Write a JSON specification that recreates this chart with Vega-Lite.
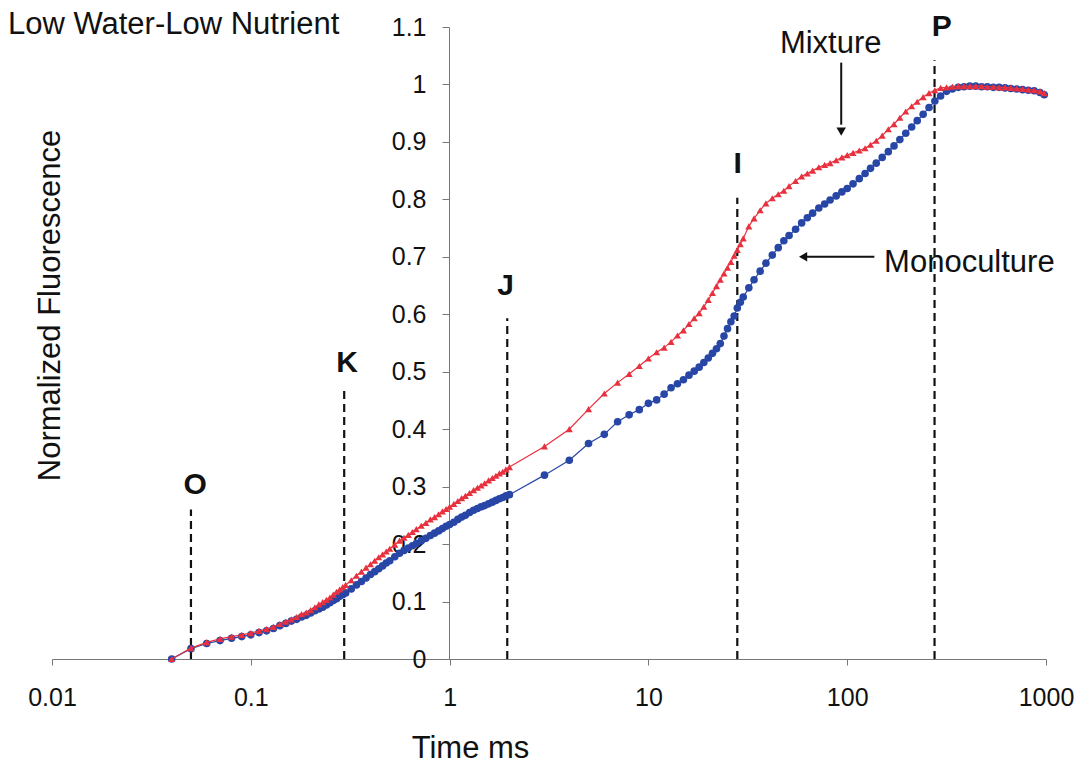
{
  "$schema": "https://vega.github.io/schema/vega-lite/v6.json",
  "width": 994,
  "height": 632,
  "autosize": "none",
  "padding": {"left": 52, "top": 27, "right": 34, "bottom": 110},
  "background": "white",
  "config": {"view": {"stroke": null}, "font": "Liberation Sans"},
  "datasets": {
    "curve": [
      {"t":0.04,"Mixture":0,"Monoculture":0},
      {"t":0.05,"Mixture":0.019,"Monoculture":0.018},
      {"t":0.06,"Mixture":0.029,"Monoculture":0.027},
      {"t":0.07,"Mixture":0.035,"Monoculture":0.032},
      {"t":0.08,"Mixture":0.039,"Monoculture":0.036},
      {"t":0.09,"Mixture":0.042,"Monoculture":0.039},
      {"t":0.1,"Mixture":0.045,"Monoculture":0.042},
      {"t":0.11,"Mixture":0.049,"Monoculture":0.046},
      {"t":0.12,"Mixture":0.052,"Monoculture":0.049},
      {"t":0.13,"Mixture":0.056,"Monoculture":0.053},
      {"t":0.14,"Mixture":0.061,"Monoculture":0.058},
      {"t":0.15,"Mixture":0.065,"Monoculture":0.062},
      {"t":0.16,"Mixture":0.069,"Monoculture":0.066},
      {"t":0.17,"Mixture":0.073,"Monoculture":0.069},
      {"t":0.18,"Mixture":0.078,"Monoculture":0.073},
      {"t":0.19,"Mixture":0.081,"Monoculture":0.076},
      {"t":0.2,"Mixture":0.085,"Monoculture":0.080},
      {"t":0.21,"Mixture":0.090,"Monoculture":0.084},
      {"t":0.22,"Mixture":0.095,"Monoculture":0.087},
      {"t":0.23,"Mixture":0.099,"Monoculture":0.090},
      {"t":0.24,"Mixture":0.103,"Monoculture":0.094},
      {"t":0.25,"Mixture":0.107,"Monoculture":0.098},
      {"t":0.26,"Mixture":0.112,"Monoculture":0.102},
      {"t":0.27,"Mixture":0.117,"Monoculture":0.105},
      {"t":0.28,"Mixture":0.121,"Monoculture":0.109},
      {"t":0.29,"Mixture":0.125,"Monoculture":0.112},
      {"t":0.3,"Mixture":0.129,"Monoculture":0.115},
      {"t":0.32,"Mixture":0.137,"Monoculture":0.122},
      {"t":0.34,"Mixture":0.145,"Monoculture":0.129},
      {"t":0.36,"Mixture":0.152,"Monoculture":0.135},
      {"t":0.38,"Mixture":0.159,"Monoculture":0.141},
      {"t":0.4,"Mixture":0.165,"Monoculture":0.147},
      {"t":0.42,"Mixture":0.171,"Monoculture":0.152},
      {"t":0.44,"Mixture":0.177,"Monoculture":0.157},
      {"t":0.46,"Mixture":0.182,"Monoculture":0.162},
      {"t":0.48,"Mixture":0.187,"Monoculture":0.167},
      {"t":0.5,"Mixture":0.192,"Monoculture":0.171},
      {"t":0.53,"Mixture":0.199,"Monoculture":0.178},
      {"t":0.56,"Mixture":0.206,"Monoculture":0.184},
      {"t":0.59,"Mixture":0.211,"Monoculture":0.189},
      {"t":0.62,"Mixture":0.216,"Monoculture":0.193},
      {"t":0.65,"Mixture":0.221,"Monoculture":0.197},
      {"t":0.68,"Mixture":0.226,"Monoculture":0.201},
      {"t":0.72,"Mixture":0.232,"Monoculture":0.206},
      {"t":0.76,"Mixture":0.237,"Monoculture":0.210},
      {"t":0.8,"Mixture":0.243,"Monoculture":0.215},
      {"t":0.84,"Mixture":0.247,"Monoculture":0.219},
      {"t":0.88,"Mixture":0.252,"Monoculture":0.223},
      {"t":0.92,"Mixture":0.257,"Monoculture":0.227},
      {"t":0.96,"Mixture":0.261,"Monoculture":0.231},
      {"t":1.0,"Mixture":0.265,"Monoculture":0.234},
      {"t":1.05,"Mixture":0.270,"Monoculture":0.238},
      {"t":1.1,"Mixture":0.275,"Monoculture":0.243},
      {"t":1.15,"Mixture":0.280,"Monoculture":0.247},
      {"t":1.2,"Mixture":0.284,"Monoculture":0.250},
      {"t":1.26,"Mixture":0.289,"Monoculture":0.255},
      {"t":1.32,"Mixture":0.294,"Monoculture":0.259},
      {"t":1.38,"Mixture":0.298,"Monoculture":0.262},
      {"t":1.44,"Mixture":0.302,"Monoculture":0.265},
      {"t":1.5,"Mixture":0.306,"Monoculture":0.267},
      {"t":1.57,"Mixture":0.311,"Monoculture":0.270},
      {"t":1.64,"Mixture":0.315,"Monoculture":0.273},
      {"t":1.71,"Mixture":0.319,"Monoculture":0.276},
      {"t":1.78,"Mixture":0.323,"Monoculture":0.279},
      {"t":1.85,"Mixture":0.326,"Monoculture":0.281},
      {"t":1.92,"Mixture":0.330,"Monoculture":0.284},
      {"t":2.0,"Mixture":0.334,"Monoculture":0.286},
      {"t":3,"Mixture":0.370,"Monoculture":0.320},
      {"t":4,"Mixture":0.400,"Monoculture":0.346},
      {"t":5,"Mixture":0.435,"Monoculture":0.375},
      {"t":6,"Mixture":0.462,"Monoculture":0.391},
      {"t":7,"Mixture":0.481,"Monoculture":0.413},
      {"t":8,"Mixture":0.496,"Monoculture":0.425},
      {"t":9,"Mixture":0.510,"Monoculture":0.434},
      {"t":10,"Mixture":0.523,"Monoculture":0.445},
      {"t":11,"Mixture":0.534,"Monoculture":0.451},
      {"t":12,"Mixture":0.542,"Monoculture":0.461},
      {"t":13,"Mixture":0.552,"Monoculture":0.472},
      {"t":14,"Mixture":0.563,"Monoculture":0.479},
      {"t":15,"Mixture":0.572,"Monoculture":0.486},
      {"t":16,"Mixture":0.583,"Monoculture":0.494},
      {"t":17,"Mixture":0.593,"Monoculture":0.501},
      {"t":18,"Mixture":0.602,"Monoculture":0.508},
      {"t":19,"Mixture":0.613,"Monoculture":0.516},
      {"t":20,"Mixture":0.625,"Monoculture":0.524},
      {"t":21,"Mixture":0.637,"Monoculture":0.532},
      {"t":22,"Mixture":0.649,"Monoculture":0.540},
      {"t":23,"Mixture":0.660,"Monoculture":0.549},
      {"t":24,"Mixture":0.671,"Monoculture":0.562},
      {"t":25,"Mixture":0.681,"Monoculture":0.575},
      {"t":26,"Mixture":0.691,"Monoculture":0.587},
      {"t":27,"Mixture":0.702,"Monoculture":0.597},
      {"t":28,"Mixture":0.712,"Monoculture":0.611},
      {"t":29,"Mixture":0.722,"Monoculture":0.621},
      {"t":30,"Mixture":0.732,"Monoculture":0.630},
      {"t":32,"Mixture":0.753,"Monoculture":0.646},
      {"t":34,"Mixture":0.767,"Monoculture":0.660},
      {"t":36.5,"Mixture":0.781,"Monoculture":0.675},
      {"t":39,"Mixture":0.793,"Monoculture":0.689},
      {"t":42,"Mixture":0.802,"Monoculture":0.703},
      {"t":45,"Mixture":0.809,"Monoculture":0.716},
      {"t":48,"Mixture":0.815,"Monoculture":0.728},
      {"t":51,"Mixture":0.823,"Monoculture":0.737},
      {"t":55,"Mixture":0.832,"Monoculture":0.748},
      {"t":59,"Mixture":0.840,"Monoculture":0.759},
      {"t":63,"Mixture":0.845,"Monoculture":0.768},
      {"t":67,"Mixture":0.850,"Monoculture":0.776},
      {"t":72,"Mixture":0.856,"Monoculture":0.785},
      {"t":77,"Mixture":0.860,"Monoculture":0.792},
      {"t":82,"Mixture":0.863,"Monoculture":0.799},
      {"t":88,"Mixture":0.868,"Monoculture":0.806},
      {"t":94,"Mixture":0.873,"Monoculture":0.813},
      {"t":100,"Mixture":0.877,"Monoculture":0.819},
      {"t":107,"Mixture":0.881,"Monoculture":0.827},
      {"t":115,"Mixture":0.885,"Monoculture":0.836},
      {"t":123,"Mixture":0.889,"Monoculture":0.845},
      {"t":131,"Mixture":0.895,"Monoculture":0.854},
      {"t":140,"Mixture":0.902,"Monoculture":0.863},
      {"t":150,"Mixture":0.911,"Monoculture":0.873},
      {"t":161,"Mixture":0.922,"Monoculture":0.883},
      {"t":172,"Mixture":0.931,"Monoculture":0.893},
      {"t":184,"Mixture":0.942,"Monoculture":0.904},
      {"t":197,"Mixture":0.953,"Monoculture":0.915},
      {"t":211,"Mixture":0.962,"Monoculture":0.926},
      {"t":225,"Mixture":0.970,"Monoculture":0.937},
      {"t":241,"Mixture":0.978,"Monoculture":0.948},
      {"t":258,"Mixture":0.985,"Monoculture":0.960},
      {"t":276,"Mixture":0.990,"Monoculture":0.971},
      {"t":295,"Mixture":0.994,"Monoculture":0.980},
      {"t":316,"Mixture":0.995,"Monoculture":0.988},
      {"t":338,"Mixture":0.996,"Monoculture":0.992},
      {"t":362,"Mixture":0.997,"Monoculture":0.995},
      {"t":387,"Mixture":0.997,"Monoculture":0.996},
      {"t":414,"Mixture":0.997,"Monoculture":0.997},
      {"t":443,"Mixture":0.997,"Monoculture":0.997},
      {"t":474,"Mixture":0.997,"Monoculture":0.996},
      {"t":507,"Mixture":0.996,"Monoculture":0.996},
      {"t":543,"Mixture":0.996,"Monoculture":0.995},
      {"t":581,"Mixture":0.995,"Monoculture":0.995},
      {"t":622,"Mixture":0.995,"Monoculture":0.994},
      {"t":665,"Mixture":0.994,"Monoculture":0.993},
      {"t":712,"Mixture":0.993,"Monoculture":0.992},
      {"t":762,"Mixture":0.992,"Monoculture":0.991},
      {"t":815,"Mixture":0.991,"Monoculture":0.990},
      {"t":872,"Mixture":0.990,"Monoculture":0.989},
      {"t":933,"Mixture":0.988,"Monoculture":0.986},
      {"t":980,"Mixture":0.985,"Monoculture":0.982}
    ],
    "phases": [
      {"t":0.05,"f":0,"f2":0.26,"name":"O","lt":0.0525,"lf":0.303},
      {"t":0.295,"f":0,"f2":0.468,"name":"K","lt":0.305,"lf":0.515},
      {"t":1.95,"f":0,"f2":0.593,"name":"J","lt":1.915,"lf":0.65},
      {"t":28,"f":0,"f2":0.803,"name":"I","lt":28.1,"lf":0.862},
      {"t":275,"f":0,"f2":1.042,"name":"P","lt":299,"lf":1.1}
    ],
    "notes": [
      {"t":82.6,"f":1.07,"name":"Mixture"},
      {"t":411.7,"f":0.69,"name":"Monoculture"}
    ]
  },
  "encoding": {
    "x": {
      "field": "t", "type": "quantitative",
      "scale": {"type": "log", "domain": [0.01, 1000], "nice": false},
      "axis": {
        "title": "Time ms", "values": [0.01, 0.1, 1, 10, 100, 1000], "format": "~g",
        "grid": false, "tickSize": 6, "labelPadding": 20, "labelFlush": false,
        "labelFontSize": 25, "labelFont": "Liberation Sans", "labelColor": "#111",
        "titleFontSize": 31, "titleFont": "Liberation Sans", "titleFontWeight": "normal", "titleColor": "#111",
        "titleX": 418, "titleY": 74,
        "domainColor": "#777", "tickColor": "#777"
      }
    },
    "y": {
      "field": "f", "type": "quantitative",
      "scale": {"domain": [0, 1.1], "nice": false, "zero": false},
      "axis": {
        "title": "Normalized Fluorescence", "values": [0, 0.1, 0.2, 0.3, 0.4, 0.5, 0.6, 0.7, 0.8, 0.9, 1, 1.1], "format": ".2~f",
        "offset": -397, "grid": false, "tickSize": 7, "labelPadding": 16,
        "labelFontSize": 25, "labelFont": "Liberation Sans", "labelColor": "#111",
        "titleFontSize": 31, "titleFont": "Liberation Sans", "titleFontWeight": "normal", "titleColor": "#111",
        "titleX": -383, "titleY": 278,
        "domainColor": "#777", "tickColor": "#777"
      }
    }
  },
  "layer": [
    {
      "data": {"values": [{"t": 0.006, "f": 1.087, "name": "Low Water-Low Nutrient"}]},
      "mark": {"type": "text", "font": "Liberation Sans", "fontSize": 31, "color": "#111", "align": "left", "baseline": "alphabetic"},
      "encoding": {"text": {"field": "name"}}
    },
    {
      "data": {"name": "phases"},
      "mark": {"type": "rule", "color": "#111", "strokeWidth": 2.2, "strokeDash": [8, 5]},
      "encoding": {"y2": {"field": "f2"}}
    },
    {
      "data": {"name": "phases"},
      "mark": {"type": "text", "font": "Liberation Sans", "fontSize": 30, "fontWeight": "bold", "color": "#111", "align": "center", "baseline": "middle"},
      "encoding": {
        "x": {"field": "lt", "type": "quantitative"},
        "y": {"field": "lf", "type": "quantitative"},
        "text": {"field": "name"}
      }
    },
    {
      "data": {"name": "curve"},
      "transform": [{"fold": ["Monoculture", "Mixture"], "as": ["series", "f"]}],
      "layer": [
        {
          "transform": [{"filter": "datum.series === 'Monoculture'"}],
          "mark": {"type": "line", "color": "#2846A6", "strokeWidth": 1.2}
        },
        {
          "transform": [{"filter": "datum.series === 'Monoculture'"}],
          "mark": {"type": "point", "shape": "circle", "filled": true, "size": 58, "color": "#2846A6", "opacity": 1}
        },
        {
          "transform": [{"filter": "datum.series === 'Mixture'"}],
          "mark": {"type": "line", "color": "#E8313F", "strokeWidth": 1.2}
        },
        {
          "transform": [{"filter": "datum.series === 'Mixture'"}],
          "mark": {"type": "point", "shape": "triangle-up", "filled": true, "size": 50, "color": "#E8313F", "opacity": 1}
        }
      ]
    },
    {
      "data": {"name": "notes"},
      "mark": {"type": "text", "font": "Liberation Sans", "fontSize": 31, "color": "#111", "align": "center", "baseline": "middle"},
      "encoding": {"text": {"field": "name"}}
    },
    {
      "data": {"values": [{"t": 93.3, "f": 1.038, "f2": 0.93}]},
      "mark": {"type": "rule", "color": "#111", "strokeWidth": 2},
      "encoding": {"y2": {"field": "f2"}}
    },
    {
      "data": {"values": [{"t": 62, "t2": 137, "f": 0.7}]},
      "mark": {"type": "rule", "color": "#111", "strokeWidth": 2},
      "encoding": {"x2": {"field": "t2"}}
    },
    {
      "data": {"values": [{"t": 93.3, "f": 0.918}]},
      "mark": {"type": "point", "shape": "triangle-down", "filled": true, "size": 90, "color": "#111", "opacity": 1}
    },
    {
      "data": {"values": [{"t": 60, "f": 0.7}]},
      "mark": {"type": "point", "shape": "triangle-left", "filled": true, "size": 90, "color": "#111", "opacity": 1}
    }
  ]
}
